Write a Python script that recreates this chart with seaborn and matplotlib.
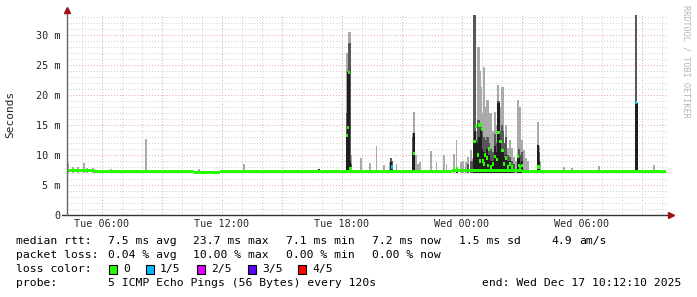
import numpy as np
import pandas as pd
import matplotlib
matplotlib.use("Agg")
import matplotlib.pyplot as plt
import seaborn as sns
from matplotlib.lines import Line2D
from matplotlib.patches import Rectangle

# ---------------- data ----------------
# time in hours since Tue 00:00
smoke_hour = [4.25, 4.50, 4.75, 5.10, 5.20, 5.55, 6.40, 8.15, 10.80, 13.05, 16.80,
              18.20, 18.25, 18.30, 18.35, 18.40, 18.45, 18.90, 19.35, 19.70, 20.05,
              20.35, 20.40, 20.45, 20.70, 21.50, 21.55, 21.60, 21.65, 21.75, 21.85,
              22.40, 22.70, 23.05, 23.20, 23.55, 23.70, 23.90, 24.00, 24.15, 24.25,
              24.40, 24.50, 24.55, 24.60, 24.65, 24.75, 24.80, 24.85, 24.90, 24.95,
              25.00, 25.05, 25.10, 25.20, 25.25, 25.30, 25.40, 25.50, 25.60, 25.70,
              25.75, 25.80, 25.85, 25.90, 25.95, 26.00, 26.05, 26.15, 26.25, 26.35,
              26.45, 26.55, 26.65, 26.75, 26.80, 26.85, 26.95, 27.05, 27.15, 27.25,
              27.75, 27.80, 27.85, 29.05, 29.45, 30.80, 32.65, 32.70, 33.55]
smoke_max = [8.6, 8.0, 8.0, 8.6, 7.9, 7.8, 7.7, 12.7, 7.6, 8.5, 7.6,
             27.0, 27.0, 30.5, 30.5, 10.0, 10.0, 9.5, 8.7, 11.5, 8.3,
             8.8, 9.5, 9.5, 8.5, 13.7, 17.2, 10.0, 10.0, 8.5, 8.9,
             10.7, 8.9, 10.0, 8.5, 10.2, 12.5, 8.8, 9.0, 8.8, 9.7,
             10.8, 9.5, 33.3, 33.3, 14.0, 28.0, 28.0, 24.0, 20.0, 21.3,
             17.0, 24.7, 18.0, 19.2, 19.2, 17.0, 17.0, 14.0, 17.2, 15.0,
             21.6, 21.6, 18.0, 18.0, 21.3, 21.3, 18.0, 15.0, 11.2, 12.5,
             11.2, 9.7, 9.0, 19.2, 18.0, 18.0, 12.5, 10.8, 9.5, 9.0,
             15.5, 11.5, 8.8, 8.0, 7.8, 8.1, 33.3, 18.7, 8.3]
smoke_dark = [0, 0, 0, 0, 0, 0, 0, 0, 0, 0, 7.6,
              17.0, 24.0, 28.7, 28.7, 8.5, 0, 0, 0, 0, 0,
              0, 9.5, 9.0, 0, 13.0, 13.7, 0, 0, 0, 0,
              0, 0, 0, 0, 0, 8.0, 0, 0, 0, 8.5,
              9.0, 9.0, 33.3, 33.3, 12.5, 15.8, 15.8, 14.0, 15.0, 14.0,
              12.0, 13.0, 12.5, 13.0, 13.0, 12.0, 11.0, 10.5, 13.5, 12.0,
              19.0, 19.0, 14.0, 13.0, 15.0, 14.0, 12.0, 13.0, 10.0, 9.7,
              9.0, 8.5, 0, 10.0, 11.0, 10.0, 10.5, 0, 0, 0,
              11.7, 10.5, 0, 0, 0, 0, 33.3, 18.7, 0]
smoke_core = [0, 0, 0, 0, 0, 0, 0, 0, 0, 0, 7.6,
              13.3, 23.8, 23.8, 9.0, 8.0, 0, 0, 0, 0, 0,
              0, 8.8, 8.0, 0, 10.0, 13.7, 0, 0, 0, 0,
              0, 0, 0, 0, 0, 8.0, 0, 0, 0, 0,
              0, 0, 12.2, 14.0, 12.2, 12.0, 13.0, 12.0, 14.2, 11.0,
              10.0, 10.5, 10.0, 11.0, 10.0, 10.0, 9.0, 9.0, 11.5, 10.5,
              18.6, 18.6, 12.2, 11.0, 11.0, 10.8, 9.5, 10.0, 9.0, 9.0,
              8.0, 0, 0, 9.7, 9.5, 8.5, 9.0, 0, 0, 0,
              11.7, 9.0, 0, 0, 0, 0, 18.7, 18.7, 0]
smoke_median = [np.nan] * 11 + [
              13.3, 14.6, 23.8, 7.8, 7.8, np.nan, np.nan, np.nan, np.nan, np.nan,
              np.nan, np.nan, 8.0, np.nan, np.nan, 10.2, np.nan, np.nan, np.nan, np.nan,
              np.nan, np.nan, np.nan, np.nan, np.nan, 7.8, np.nan, np.nan, np.nan, np.nan,
              np.nan, np.nan, 12.2, 12.2, 14.8, 10.0, 15.0, 9.0, 15.0, 14.2,
              9.0, 8.5, 10.0, 9.5, 8.2, 11.0, 8.0, 8.5, 9.7, 9.3,
              13.7, 13.7, 12.2, 12.2, 10.8, 10.8, 8.5, 9.5, 8.0, 8.5,
              8.0, np.nan, np.nan, 9.7, 8.2, 8.0, 8.3, np.nan, np.nan, np.nan,
              8.0, 8.0, np.nan, np.nan, np.nan, np.nan, 18.7, np.nan, np.nan]
smoke_loss = [0] * 23 + [1] + [0] * 63 + [1, 0, 0]

# baseline median (piecewise, hours) and its value in ms
base_edges = [4.25, 5.6, 8.0, 9.0, 10.6, 11.9, 18.1, 23.5, 27.0, 28.0, 34.2]
base_median = [7.4, 7.25, 7.2, 7.25, 7.1, 7.25, 7.3, 7.45, 7.3, 7.2]

x_tick_hours = [6, 12, 18, 24, 30]
x_tick_labels = ["Tue 06:00", "Tue 12:00", "Tue 18:00", "Wed 00:00", "Wed 06:00"]
y_ticks = [0, 5, 10, 15, 20, 25, 30]
y_tick_labels = ["0", "5 m", "10 m", "15 m", "20 m", "25 m", "30 m"]

loss_names = ["0", "1/5", "2/5", "3/5", "4/5"]
loss_colors = ["#26ff00", "#00b8ff", "#dd00ff", "#5e00ff", "#ff0000"]

df = pd.DataFrame({"hour": smoke_hour, "max": smoke_max, "dark": smoke_dark,
                   "core": smoke_core, "median": smoke_median, "loss": smoke_loss})
base = pd.DataFrame({"start": base_edges[:-1], "end": base_edges[1:], "median": base_median})

# ---------------- figure ----------------
sns.set_theme(style="white")
plt.rcParams["font.family"] = ["DejaVu Sans Mono", "DejaVu Sans"]
W, H = 697, 297
fig = plt.figure(figsize=(W / 100, H / 100), dpi=100)
fig.patch.set_facecolor("white")
ax = fig.add_axes([67 / W, (H - 215) / H, 600 / W, 201 / H])
ax.set_facecolor("white")
ax.set_xlim(4.25, 34.25)
ax.set_ylim(0, 33.5)
for s in ax.spines.values():
    s.set_visible(False)

minor_col = "#cccccc"
major_col = "#e3a3a3"
dot = (0, (1, 2))
for h in range(5, 35):
    c = major_col if h % 3 == 0 else minor_col
    ax.axvline(h, color=c, lw=0.7, ls=dot, zorder=0)
for v in range(1, 34):
    c = major_col if v % 5 == 0 else minor_col
    ax.axhline(v, color=c, lw=0.7, ls=dot, zorder=0)

bw = 0.1
off = -0.025
lo = 7.0
ax.bar(df["hour"] + off, df["max"] - lo, bottom=lo, width=bw, align="edge",
       color="#aaaaaa", lw=0, zorder=2)
m = df["dark"] > 0
ax.bar(df.loc[m, "hour"] + off, df.loc[m, "dark"] - lo, bottom=lo, width=bw, align="edge",
       color="#585858", lw=0, zorder=3)
m = df["core"] > 0
ax.bar(df.loc[m, "hour"] + off, df.loc[m, "core"] - lo, bottom=lo, width=bw, align="edge",
       color="#1e1e1e", lw=0, zorder=4)

band = 0.55
ax.bar(base["start"], band, bottom=base["median"] - band / 2,
       width=base["end"] - base["start"], align="edge", color=loss_colors[0], lw=0, zorder=5)
m = df["median"].notna()
sub = df[m]
ax.bar(sub["hour"] + off, band, bottom=sub["median"] - band / 2, width=bw, align="edge",
       color=[loss_colors[i] for i in sub["loss"]], lw=0, zorder=6)

ax.set_xticks(x_tick_hours)
ax.set_xticklabels(x_tick_labels, fontsize=7.3)
ax.set_yticks(y_ticks)
ax.set_yticklabels(y_tick_labels, fontsize=7.3)
ax.tick_params(axis="both", length=0, pad=4.5)
ax.tick_params(axis="x", pad=3)
ax.set_ylabel("Seconds", fontsize=8)
ax.yaxis.set_label_coords((15 - 67) / 600, 0.5)

# axes lines and arrows
ft = fig.transFigure
def fx(px):
    return px / W
def fy(py):
    return (H - py) / H
fig.add_artist(Line2D([fx(62), fx(671)], [fy(215), fy(215)], color="#333333", lw=1.0, transform=ft))
fig.add_artist(Line2D([fx(67), fx(67)], [fy(215), fy(11)], color="#666666", lw=1.0, transform=ft))
fig.add_artist(Line2D([fx(671)], [fy(215)], marker=">", markersize=4, color="#a01010", lw=0, transform=ft))
fig.add_artist(Line2D([fx(67)], [fy(10)], marker="^", markersize=4, color="#a01010", lw=0, transform=ft))

fig.text(fx(686), fy(5), "RRDTOOL / TOBI OETIKER", rotation=-90, fontsize=6.1,
         color="#b4b4b4", ha="center", va="top")

# legend texts
fs = 8.2
def t(x, y, s, **kw):
    fig.text(fx(x), fy(y), s, fontsize=fs, va="center", ha=kw.pop("ha", "left"), color="black", **kw)

t(16, 241, "median rtt:")
for xx, s in [(107.6, "7.5 ms avg"), (193.3, "23.7 ms max"), (285.8, "7.1 ms min"),
              (372.4, "7.2 ms now"), (459, "1.5 ms sd"), (551, "4.9"), (579, "am/s")]:
    t(xx, 241, s)
t(16, 255, "packet loss:")
for xx, s in [(107.6, "0.04 % avg"), (193.3, "10.00 % max"), (285.8, "0.00 % min"),
              (372.4, "0.00 % now")]:
    t(xx, 255, s)
t(16, 269, "loss color:")
box_x = [109, 146, 197, 248, 298]
lab_x = [123.6, 160, 211, 262, 312.4]
for bx, lx, name, col in zip(box_x, lab_x, loss_names, loss_colors):
    fig.add_artist(Rectangle((fx(bx), fy(273.5)), 7.5 / W, 9 / H, transform=ft,
                             facecolor=col, edgecolor="black", lw=0.8))
    t(lx, 269, name)
t(16, 283, "probe:")
t(107.6, 283, "5 ICMP Echo Pings (56 Bytes) every 120s")
t(681, 283, "end: Wed Dec 17 10:12:10 2025", ha="right")

fig.savefig("out.png", dpi=100, facecolor="white")
